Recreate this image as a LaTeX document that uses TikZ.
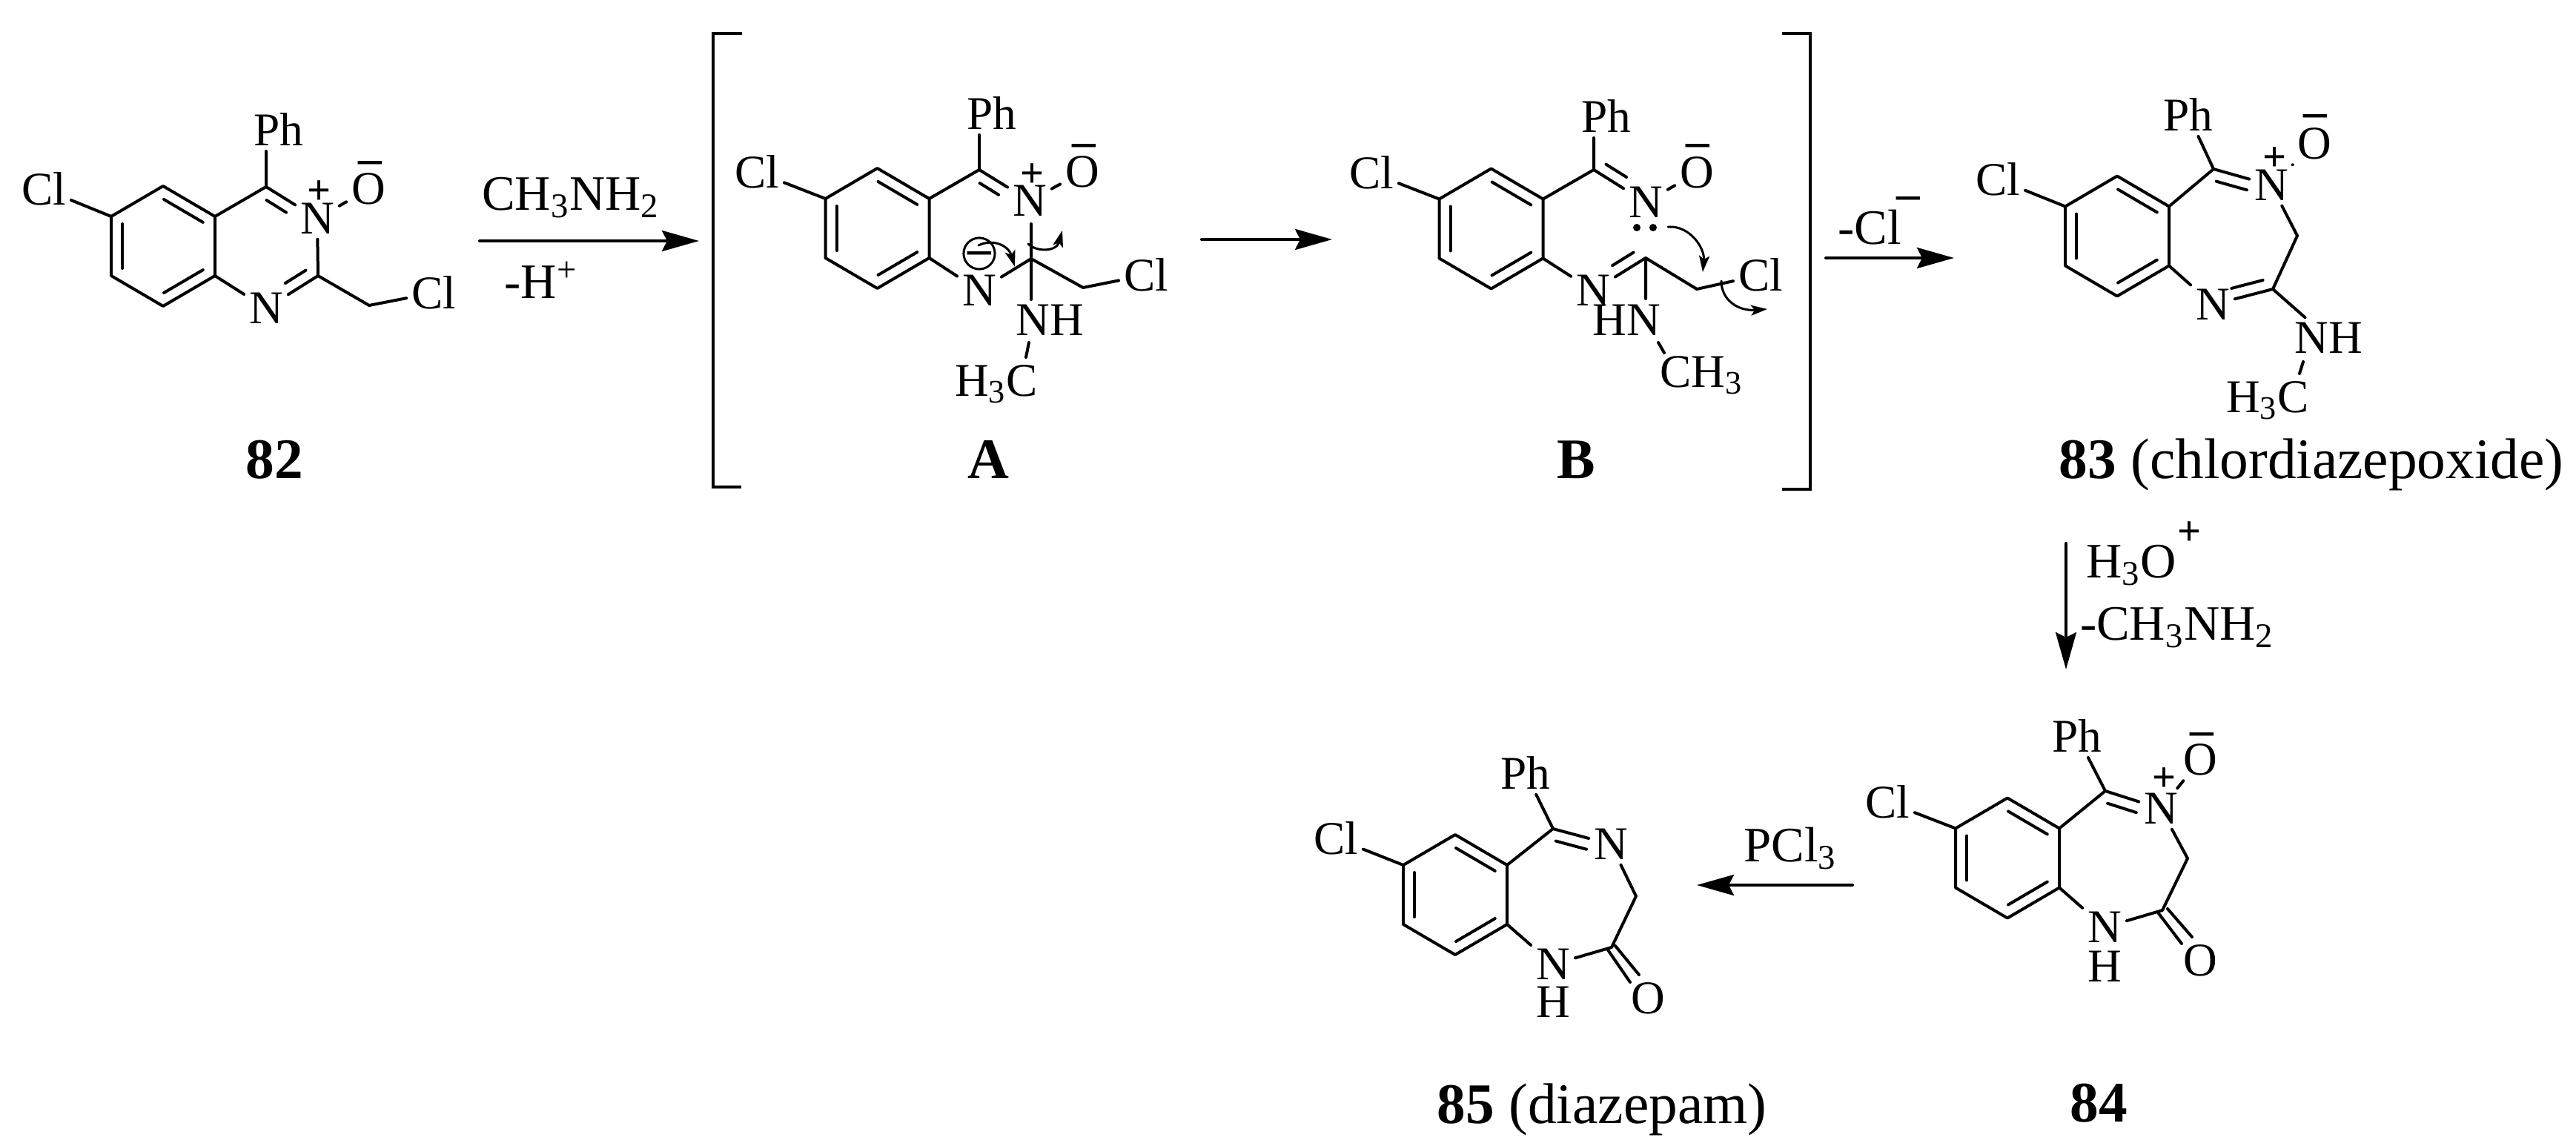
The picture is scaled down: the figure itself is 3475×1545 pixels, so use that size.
\documentclass[tikz,border=0pt]{standalone}
\usepackage{fontspec}
\setmainfont{Liberation Serif}
\usetikzlibrary{arrows.meta,calc}
\tikzset{
	atom/.style={inner sep=.05cm,font=\fontsize{18}{20}\selectfont},
	chg/.style={inner sep=0pt,font=\fontsize{16}{20}\selectfont\bfseries},
	minusbar/.style={inner sep=0pt,text height=.28cm,text depth=0pt,font=\fontsize{18}{20}\selectfont\bfseries},
	reag/.style={inner sep=0pt,anchor=base,font=\fontsize{19}{22}\selectfont},
	cpd/.style={inner sep=0pt,anchor=base,font=\fontsize{22}{26}\selectfont},
	curly/.style={-{Stealth[length=.22cm,width=.14cm,inset=.05cm]},line width=.03cm},
	brack/.style={line width=.045cm,line cap=butt,line join=miter}
}
% benzene ring: prefix, centre x, centre y
\newcommand{\benzo}[3]{
	\coordinate (#1c5) at (#2,#3-81);
	\coordinate (#1c6) at (#2-70,#3-40);
	\coordinate (#1c7) at (#2-70,#3+40);
	\coordinate (#1c8) at (#2,#3+81);
	\coordinate (#1c9) at (#2+70,#3+40);
	\coordinate (#1c10) at (#2+70,#3-40);
	\draw (#1c5)--(#1c6)--(#1c7)--(#1c8)--(#1c9)--(#1c10)--cycle;
	\dbl{#1c6}{#1c7}{.1cm}{.1cm}
	\dbl{#1c8}{#1c9}{.1cm}{.1cm}
	\dbl{#1c10}{#1c5}{.1cm}{.1cm}
}
\newcommand{\dbl}[4]{\draw[shorten <=#3,shorten >=#4] ($(#1)!.15cm!90:(#2)$)--($(#2)!.15cm!-90:(#1)$);}
\begin{document}
\begin{tikzpicture}[x=.01cm,y=-.01cm,>={Stealth[length=.5cm,width=.28cm,inset=.07cm]},line width=.04cm,line join=round,line cap=round]
	\useasboundingbox (0,0) rectangle (3475,1545);
	% 82
	\benzo{ms}{220}{332}
	\coordinate (msc4) at (359,252);
	\coordinate (msc2) at (429,372);
	\coordinate (msch) at (498,412);
	\node[atom] (mscl) at (59,255) {Cl};
	\node[atom] (msph) at (376,175) {Ph};
	\node[atom] (msn) at (428,295) {N};
	\node[chg] (msplus) at (431,260) {+};
	\node[atom] (mso) at (497,255) {O};
	\node[minusbar] (msminus) at (499,220) {–};
	\node[atom] (msn1) at (359,416) {N};
	\node[atom] (mscl2) at (585,395) {Cl};
	\node[cpd] (msname) at (370,645) {\textbf{82}};
	\draw (msc6)--(mscl) (msc10)--(msc4)--(msn) (msc4)--(msc4|-msph.south);
	\draw (msn)--(mso) (msn)--(msc2)--(msn1)--(msc9) (msc2)--(msch)--(mscl2);
	\dbl{msn}{msc4}{.4cm}{.1cm}
	\dbl{msn1}{msc2}{.4cm}{.1cm}
	% A
	\benzo{ma}{1183.5}{308}
	\coordinate (mac4) at (1321,229);
	\coordinate (mac2) at (1391,349);
	\coordinate (mach) at (1461,388);
	\coordinate (mabt) at (1391,302);
	\coordinate (mabb) at (1391,404);
	\coordinate (manh1) at (1388,462);
	\coordinate (manh2) at (1384,482);
	\node[atom] (macl) at (1021,232) {Cl};
	\node[atom] (maph) at (1338,153) {Ph};
	\node[atom] (man) at (1389,271) {N};
	\node[chg] (maplus) at (1393,237) {+};
	\node[atom] (mao) at (1460,232) {O};
	\node[minusbar] (maminus) at (1462,197) {–};
	\node[atom] (man1) at (1321,392) {N};
	\node[atom] (macl2) at (1546,371) {Cl};
	\node[atom] (manh) at (1416,432) {NH};
	\node[reag,font=\fontsize{18}{20}\selectfont] (mah3c) at (1344,534) {H\textsubscript{3}C};
	\node[minusbar,circle,draw,minimum size=.42cm,line width=.03cm] (macirc) at (1321,342) {–};
	\node[cpd] (maname) at (1333,645) {\textbf{A}};
	\draw (mac6)--(macl) (mac10)--(mac4)--(man) (mac4)--(mac4|-maph.south);
	\draw (man)--(mao) (mabt)--(mabb) (mac9)--(man1)--(mac2)--(mach)--(macl2) (manh1)--(manh2);
	\dbl{man}{mac4}{.4cm}{.1cm}
	\draw[curly] (1320,331) .. controls (1338,322) and (1360,330) .. (1369,360);
	\draw[curly] (1387,329) .. controls (1398,340) and (1425,340) .. (1433,311);
	% brackets
	\draw[brack] (1001,45)--(962,45)--(962,657)--(1000,657);
	\draw[brack] (2404,45)--(2442,45)--(2442,660)--(2404,660);
	% B
	\benzo{mb}{2011.5}{308.5}
	\coordinate (mbc4) at (2150,229);
	\coordinate (mbc2) at (2220,348);
	\coordinate (mbch) at (2289,390);
	\coordinate (mbnb) at (2220,403);
	\coordinate (mbme1) at (2237,462);
	\coordinate (mbme2) at (2245,476);
	\node[atom] (mbcl) at (1850,233) {Cl};
	\node[atom] (mbph) at (2167,157) {Ph};
	\node[atom] (mbn) at (2220,273) {N};
	\node[atom] (mbo) at (2289,233) {O};
	\node[minusbar] (mbminus) at (2290,197) {–};
	\node[atom] (mbn1) at (2149,392) {N};
	\node[atom] (mbcl2) at (2375,371) {Cl};
	\node[atom] (mbhn) at (2194,432) {HN};
	\node[reag,font=\fontsize{18}{20}\selectfont] (mbch3) at (2295,522) {CH\textsubscript{3}};
	\node[cpd] (mbname) at (2126,645) {\textbf{B}};
	\fill (2208,307) circle (.05cm) (2230,307) circle (.05cm);
	\draw (mbc6)--(mbcl) (mbc10)--(mbc4)--(mbn) (mbc4)--(mbc4|-mbph.south);
	\draw (mbn)--(mbo) (mbc9)--(mbn1)--(mbc2)--(mbch)--(mbcl2) (mbc2)--(mbnb) (mbme1)--(mbme2);
	\dbl{mbc4}{mbn}{.1cm}{.4cm}
	\dbl{mbn1}{mbc2}{.4cm}{.1cm}
	\draw[curly] (2250,306) .. controls (2280,304) and (2300,335) .. (2297,367);
	\draw[curly] (2322,379) .. controls (2322,405) and (2345,420) .. (2384,417);
	% 83
	\benzo{mc}{2856}{318.5}
	\coordinate (mcc4) at (2986,228);
	\coordinate (mcch) at (3099,318);
	\coordinate (mcc2) at (3066,390);
	\coordinate (mcme1) at (3107,488);
	\coordinate (mcme2) at (3102,504);
	\node[atom] (mccl) at (2695,242) {Cl};
	\node[atom] (mcph) at (2952,155) {Ph};
	\node[atom] (mcn) at (3064,250) {N};
	\node[chg] (mcplus) at (3068,215) {+};
	\node[atom] (mco) at (3122,194) {O};
	\node[minusbar] (mcminus) at (3123,157) {–};
	\node[atom] (mcn1) at (2985,411) {N};
	\node[atom] (mcnh) at (3141,456) {NH};
	\node[reag,font=\fontsize{18}{20}\selectfont] (mch3c) at (3059,556) {H\textsubscript{3}C};
	\node[cpd] (mcname) at (3118,645) {\textbf{83} (chlordiazepoxide)};
	\draw (mcc6)--(mccl) (mcc10)--(mcc4)--(mcn) (mcc4)--(mcph);
	\draw (mcn)--(mco) (mcn)--(mcch)--(mcc2)--(mcn1)--(mcc9) (mcc2)--(mcnh) (mcme1)--(mcme2);
	\dbl{mcn}{mcc4}{.3cm}{.08cm}
	\dbl{mcn1}{mcc2}{.3cm}{.1cm}
	% 84
	\benzo{md}{2708}{1157.5}
	\coordinate (mdc4) at (2840,1067);
	\coordinate (mdch) at (2951,1158);
	\coordinate (mdc2) at (2917,1228);
	\coordinate (mdo1) at (2911,1231);
	\coordinate (mdo2) at (2943,1273);
	\coordinate (mdo3) at (2924,1226);
	\coordinate (mdo4) at (2957,1264);
	\node[atom] (mdcl) at (2546,1082) {Cl};
	\node[atom] (mdph) at (2802,993) {Ph};
	\node[atom] (mdn) at (2915,1091) {N};
	\node[chg] (mdplus) at (2919,1052) {+};
	\node[atom] (mdo) at (2968,1025) {O};
	\node[minusbar] (mdminus) at (2970,991) {–};
	\node[atom] (mdn1) at (2839,1251) {N};
	\node[atom,inner sep=0pt] (mdh) at (2839,1304) {H};
	\node[atom,inner sep=0pt] (mdo5) at (2968,1296) {O};
	\node[cpd] (mdname) at (2831,1513) {\textbf{84}};
	\draw (mdc6)--(mdcl) (mdc10)--(mdc4)--(mdn) (mdc4)--(mdph);
	\draw (mdn)--(mdo) (mdn)--(mdch)--(mdc2)--(mdn1)--(mdc9) (mdo1)--(mdo2) (mdo3)--(mdo4);
	\dbl{mdn}{mdc4}{.3cm}{.08cm}
	% 85
	\benzo{me}{1963}{1207}
	\coordinate (mec4) at (2095,1118);
	\coordinate (mech) at (2207,1209);
	\coordinate (mec2) at (2174,1278);
	\coordinate (meo1) at (2168,1280);
	\coordinate (meo2) at (2199,1325);
	\coordinate (meo3) at (2179,1276);
	\coordinate (meo4) at (2211,1315);
	\node[atom] (mecl) at (1802,1131) {Cl};
	\node[atom] (meph) at (2058,1043) {Ph};
	\node[atom] (men) at (2173,1139) {N};
	\node[atom] (men1) at (2095,1301) {N};
	\node[atom,inner sep=0pt] (meh) at (2095,1352) {H};
	\node[atom,inner sep=0pt] (meo5) at (2223,1347) {O};
	\node[cpd] (mename) at (2161,1515) {\textbf{85} (diazepam)};
	\draw (mec6)--(mecl) (mec10)--(mec4)--(men) (mec4)--(meph);
	\draw (men)--(mech)--(mec2)--(men1)--(mec9) (meo1)--(meo2) (meo3)--(meo4);
	\dbl{men}{mec4}{.3cm}{.08cm}
	% arrows
	\coordinate (r1s) at (647,325);
	\coordinate (r1e) at (943,325);
	\coordinate (r2s) at (1621,323);
	\coordinate (r2e) at (1797,323);
	\coordinate (r3s) at (2463,348);
	\coordinate (r3e) at (2636,348);
	\coordinate (r4s) at (2787,733);
	\coordinate (r4e) at (2787,903);
	\coordinate (r5s) at (2499,1194);
	\coordinate (r5e) at (2289,1194);
	\draw[->] (r1s)--(r1e);
	\draw[->] (r2s)--(r2e);
	\draw[->] (r3s)--(r3e);
	\draw[->] (r4s)--(r4e);
	\draw[->] (r5s)--(r5e);
	\node[reag] (r1a) at (770,283) {CH\textsubscript{3}NH\textsubscript{2}};
	\node[reag] (r1b) at (730,402) {-H\textsuperscript{+}};
	\node[reag] (r3a) at (2522,329) {-Cl};
	\node[minusbar] (r3m) at (2574,268) {–};
	\node[reag] (r4a) at (2875,779) {H\textsubscript{3}O};
	\node[chg] (r4p) at (2953,720) {+};
	\node[reag] (r4b) at (2937,863) {-CH\textsubscript{3}NH\textsubscript{2}};
	\node[reag] (r5a) at (2415,1162) {PCl\textsubscript{3}};
\end{tikzpicture}
\end{document}
